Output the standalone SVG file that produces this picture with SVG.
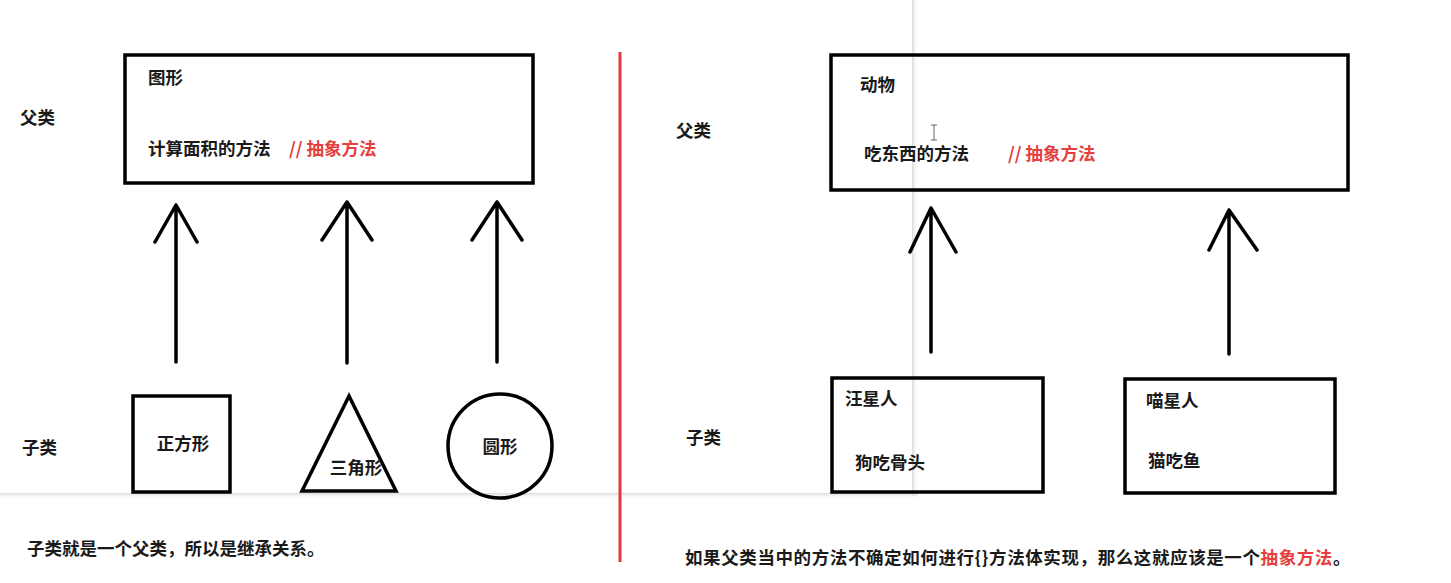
<svg xmlns="http://www.w3.org/2000/svg" width="1451" height="583" viewBox="0 0 1451 583">
<defs>
<style>
text{font-family:"Noto Sans CJK SC","Noto Sans",sans-serif;font-size:17.5px;font-weight:bold;fill:#1a1a1a;dominant-baseline:central}
.red{fill:#e5403e}
.box{fill:none;stroke:#000;stroke-width:3.5}
.arr{fill:none;stroke:#000;stroke-width:3.5;stroke-linecap:round;stroke-linejoin:round}
</style>
<linearGradient id="shv" x1="0" x2="1" y1="0" y2="0"><stop offset="0" stop-color="#d8d8d8"/><stop offset="1" stop-color="#ffffff" stop-opacity="0"/></linearGradient>
<linearGradient id="shh" x1="0" x2="0" y1="0" y2="1"><stop offset="0" stop-color="#d8d8d8"/><stop offset="1" stop-color="#ffffff" stop-opacity="0"/></linearGradient>
</defs>
<rect width="1451" height="583" fill="#fff"/>
<g id="window-shadow">
<rect x="912" y="0" width="6" height="496" fill="url(#shv)"/>
<rect x="0" y="493" width="918" height="6" fill="url(#shh)"/>
</g>
<g id="divider"><line x1="620" y1="52" x2="620" y2="562" stroke="#e03a3a" stroke-width="3"/></g>
<g id="labels">
<text x="20" y="116">父类</text>
<text x="22" y="446">子类</text>
<text x="676" y="129">父类</text>
<text x="686" y="436">子类</text>
<text x="27" y="547">子类就是一个父类，所以是继承关系。</text>
<text x="685" y="556" letter-spacing="0.6">如果父类当中的方法不确定如何进行{}方法体实现，那么这就应该是一个<tspan class="red">抽象方法</tspan>。</text>
</g>
<g id="shape-parent">
<rect class="box" x="125" y="55" width="408" height="128"/>
<text x="148" y="76">图形</text>
<text x="148" y="147">计算面积的方法</text>
<text class="red" x="289" y="147">// 抽象方法</text>
</g>
<g id="square">
<rect class="box" x="133" y="396" width="97" height="96"/>
<text x="183" y="442" text-anchor="middle">正方形</text>
</g>
<g id="triangle">
<polygon class="box" points="349,396 302,491 396,491"/>
<text x="356" y="466" text-anchor="middle">三角形</text>
</g>
<g id="circle">
<circle class="box" cx="500" cy="446" r="52"/>
<text x="500" y="445" text-anchor="middle">圆形</text>
</g>
<g id="animal-parent">
<rect class="box" x="831" y="55" width="517" height="135"/>
<text x="860" y="83">动物</text>
<text x="864" y="152">吃东西的方法</text>
<text class="red" x="1008" y="152">// 抽象方法</text>
<path d="M931 125h6M934 125v15M931 140h6" stroke="#666" stroke-width="1" fill="none"/>
</g>
<g id="dog">
<rect class="box" x="832" y="378" width="211" height="114"/>
<text x="845" y="397">汪星人</text>
<text x="855" y="461">狗吃骨头</text>
</g>
<g id="cat">
<rect class="box" x="1125" y="379" width="210" height="114"/>
<text x="1146" y="399">喵星人</text>
<text x="1148" y="459">猫吃鱼</text>
</g>
<g id="connectors">
<path class="arr" d="M176 362V205M155 242L176 205L197 242"/>
<path class="arr" d="M347 363V202M322 240L347 202L372 240"/>
<path class="arr" d="M497 362V202M472 240L497 202L522 240"/>
<path class="arr" d="M931 352V208M910 252L931 208L956 252"/>
<path class="arr" d="M1229 354V210M1209 250L1229 210L1257 250"/>
</g>
</svg>
